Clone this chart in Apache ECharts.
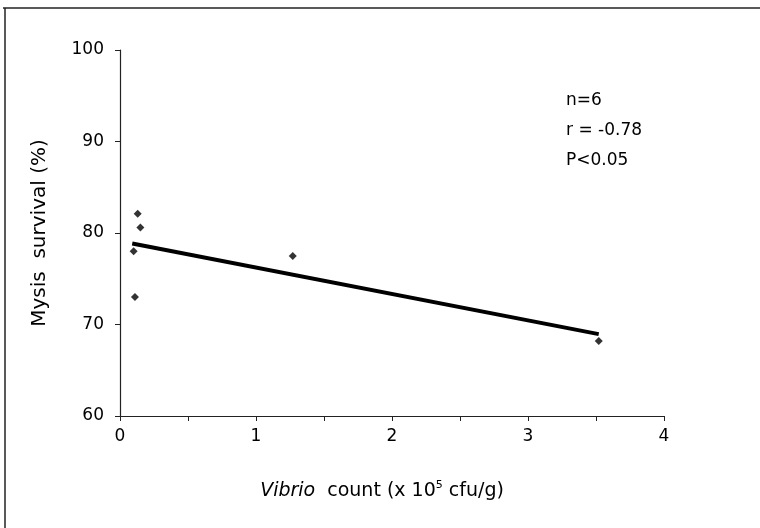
<!DOCTYPE html>
<html>
<head>
<meta charset="utf-8">
<style>
  html, body { margin: 0; padding: 0; background: #fff; }
  #chart { width: 760px; height: 528px; }
</style>
<script src="https://cdn.jsdelivr.net/npm/echarts@6/dist/echarts.min.js"></script>
</head>
<body>
<div id="chart"></div>
<script>
  // Vibrio count (x 10^5 cfu/g) vs mysis survival (%)
  const vibrioCount = [0.13, 0.15, 0.10, 0.11, 1.27, 3.52];
  const mysisSurvival = [82.1, 80.6, 78.0, 73.0, 77.5, 68.2];
  // fitted regression line, read at its two ends
  const fitX = [0.09, 3.52];
  const fitY = [78.85, 68.95];
  const statsLines = ["n=6", "r = -0.78", "P<0.05"];

  const FONT = "DejaVu Sans";
  const chart = echarts.init(document.getElementById("chart"), null, { renderer: "canvas" });

  chart.setOption({
    animation: false,
    textStyle: { fontFamily: FONT, color: "#000" },
    grid: { left: 120, right: 96, top: 50, bottom: 112 },
    xAxis: {
      type: "value",
      min: 0,
      max: 4,
      interval: 0.5,
      name: "{i|Vibrio}  count (x 10{s|5} cfu/g)",
      nameLocation: "middle",
      nameGap: 64,
      nameTextStyle: {
        fontFamily: FONT,
        fontSize: 19,
        color: "#000",
        padding: [0, 20, 0, 0],
        rich: {
          i: { fontFamily: FONT, fontSize: 19, fontStyle: "italic", color: "#000" },
          s: { fontFamily: FONT, fontSize: 11, color: "#000", verticalAlign: "top", padding: [0, 0, 12, 0] }
        }
      },
      axisLine: { lineStyle: { color: "#222", width: 1.2 } },
      axisTick: { inside: false, length: 5, lineStyle: { color: "#222" } },
      axisLabel: {
        margin: 12,
        fontSize: 17,
        color: "#000",
        formatter: (v) => (Number.isInteger(v) ? String(v) : "")
      },
      splitLine: { show: false }
    },
    yAxis: {
      type: "value",
      min: 60,
      max: 100,
      interval: 10,
      name: "Mysis  survival (%)",
      nameLocation: "middle",
      nameGap: 70,
      nameTextStyle: { fontFamily: FONT, fontSize: 20, color: "#000" },
      axisLine: { show: true, lineStyle: { color: "#222", width: 1.2 } },
      axisTick: { show: true, inside: false, length: 5, lineStyle: { color: "#222" } },
      axisLabel: { margin: 16, fontSize: 17, color: "#000" },
      splitLine: { show: false }
    },
    graphic: [
      { type: "line", shape: { x1: 3, y1: 8, x2: 760, y2: 8 }, style: { stroke: "#222", lineWidth: 1.5 } },
      { type: "line", shape: { x1: 5, y1: 8, x2: 5, y2: 528 }, style: { stroke: "#222", lineWidth: 1.5 } },
      {
        type: "text",
        left: 566,
        top: 86,
        style: {
          text: statsLines.join("\n"),
          font: "17px '" + FONT + "'",
          fill: "#000",
          lineHeight: 30
        }
      }
    ],
    series: [
      {
        name: "fit",
        type: "line",
        data: fitX.map((x, i) => [x, fitY[i]]),
        showSymbol: false,
        lineStyle: { color: "#000", width: 4 },
        z: 2
      },
      {
        name: "survival",
        type: "scatter",
        data: vibrioCount.map((x, i) => [x, mysisSurvival[i]]),
        symbol: "diamond",
        symbolSize: 8,
        itemStyle: { color: "#000" },
        z: 3
      }
    ]
  });
</script>
</body>
</html>
